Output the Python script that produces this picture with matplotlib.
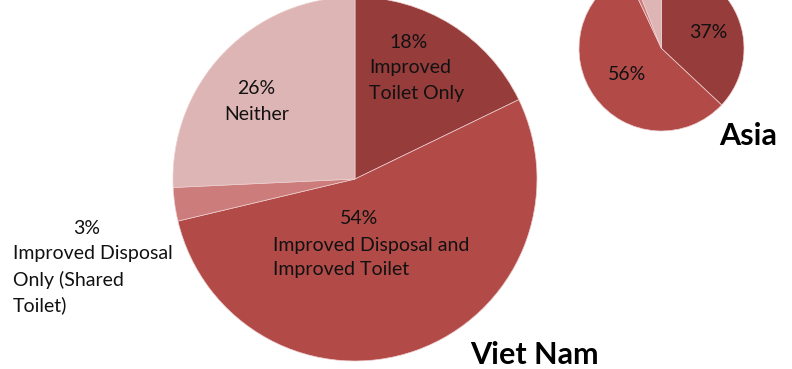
import matplotlib
matplotlib.use("Agg")
import matplotlib.pyplot as plt

W, H = 792, 369

# Sanitation shares (%), clockwise from 12 o'clock
categories = ["Improved Toilet Only", "Improved Disposal and Improved Toilet",
              "Improved Disposal Only (Shared Toilet)", "Neither"]
vietnam_values = [18, 54, 3, 26]
asia_values = [37, 56, 1, 6]
colors = ["#963C3B", "#B24B48", "#CC7C7A", "#DDB5B4"]

plt.rcParams["font.family"] = ["Lato", "DejaVu Sans"]

fig = plt.figure(figsize=(W / 100, H / 100), dpi=100)
ax = fig.add_axes([0, 0, 1, 1])


def py(y):
    """Convert a top-down pixel row into axes y."""
    return H - y


wedge_kw = dict(edgecolor="#eccfcf", linewidth=0.5)

ax.pie(vietnam_values, colors=colors, startangle=90, counterclock=False,
       center=(355, py(179)), radius=182, wedgeprops=wedge_kw, frame=True)
ax.pie(asia_values, colors=colors, startangle=90, counterclock=False,
       center=(661.5, py(48.5)), radius=82.5, wedgeprops=wedge_kw, frame=True)

ax.set_xlim(0, W)
ax.set_ylim(0, H)
ax.set_aspect("equal")
ax.axis("off")

fs = 14
txt = dict(fontsize=fs, color="#111111")

# Viet Nam labels
ax.text(409, py(43), f"{vietnam_values[0]}%", ha="center", va="center", **txt)
ax.text(369, py(68), "Improved", ha="left", va="center", **txt)
ax.text(369, py(93), "Toilet Only", ha="left", va="center", **txt)

ax.text(359, py(219), f"{vietnam_values[1]}%", ha="center", va="center", **txt)
ax.text(273, py(245), "Improved Disposal and", ha="left", va="center", **txt)
ax.text(273, py(270), "Improved Toilet", ha="left", va="center", **txt)

ax.text(87, py(229), f"{vietnam_values[2]}%", ha="center", va="center", **txt)
ax.text(13, py(254), "Improved Disposal", ha="left", va="center", **txt)
ax.text(13, py(280), "Only (Shared", ha="left", va="center", **txt)
ax.text(13, py(305), "Toilet)", ha="left", va="center", **txt)

ax.text(256, py(88), f"{vietnam_values[3]}%", ha="center", va="center", **txt)
ax.text(257, py(114), "Neither", ha="center", va="center", **txt)

# Asia labels
ax.text(708, py(33), f"{asia_values[0]}%", ha="center", va="center", **txt)
ax.text(627, py(75), f"{asia_values[1]}%", ha="center", va="center", **txt)

# Region titles
ax.text(534, py(355), "Viet Nam", ha="center", va="center",
        fontsize=22, fontweight="bold", color="black")
ax.text(748, py(136), "Asia", ha="center", va="center",
        fontsize=22, fontweight="bold", color="black")

fig.savefig("out.png", dpi=100)
